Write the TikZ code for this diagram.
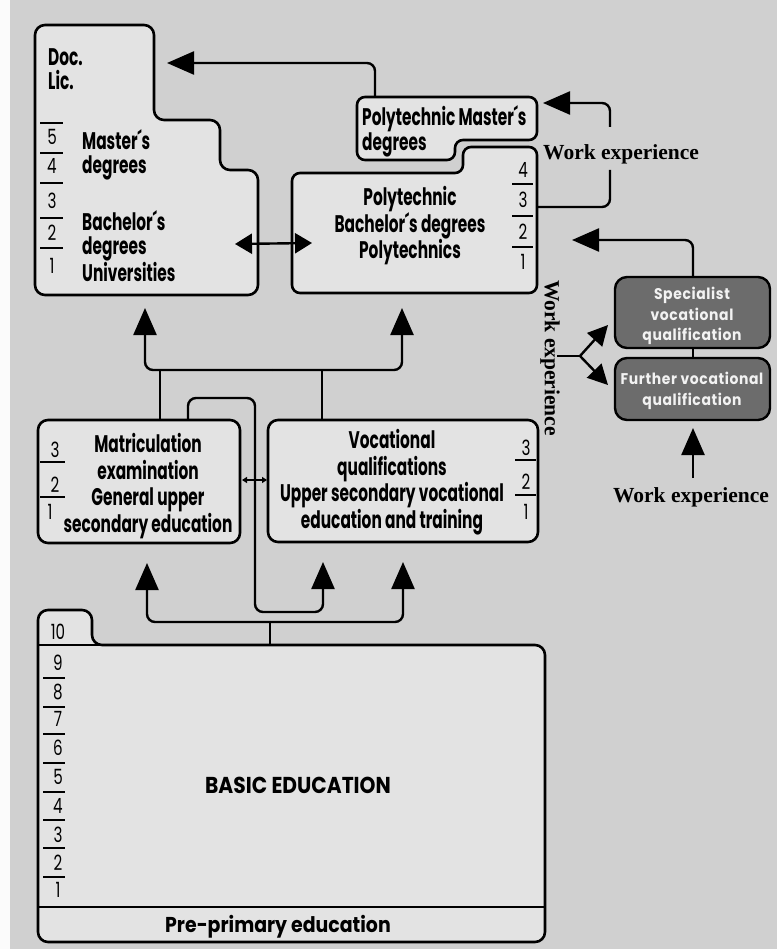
\documentclass[tikz,border=0pt]{standalone}
\usepackage{fontspec}
\usetikzlibrary{arrows.meta}
\newfontfamily\fut[FakeStretch=0.64]{Poppins}
\newfontfamily\futn[FakeStretch=0.72]{Poppins}
\newfontfamily\futw[FakeStretch=0.88]{Poppins}
\newfontfamily\futs[FakeStretch=0.9,LetterSpace=4]{Poppins}
\newfontfamily\wser{Liberation Serif}
\definecolor{bg}{HTML}{D0D0D0}
\definecolor{boxbg}{HTML}{E3E3E3}
\definecolor{darkfill}{HTML}{6C6C6C}
\definecolor{lighttext}{HTML}{F2F2F2}
\begin{document}
\begin{tikzpicture}[x=1pt,y=-1pt,
  boxline/.style={line width=2.6pt, rounded corners=10pt, fill=boxbg},
  darkbox/.style={line width=2.4pt, rounded corners=12pt, fill=darkfill},
  conn/.style={line width=2.4pt, rounded corners=8pt},
  bigtip/.style={-{Triangle[length=27pt,width=23pt]}},
  midtip/.style={{Triangle[length=17pt,width=20pt]}-{Triangle[length=17pt,width=20pt]}},
  forktip/.style={-{Triangle[length=20pt,width=20pt]}},
  smalltip/.style={{Triangle[length=5pt,width=6pt]}-{Triangle[length=5pt,width=6pt]}},
  lbl/.style={font=\fut\bfseries\fontsize{24}{26.5}\selectfont, align=center, inner sep=0},
  lbltight/.style={font=\fut\bfseries\fontsize{24}{24}\selectfont, align=left, inner sep=0},
  lblw/.style={font=\futw\bfseries\fontsize{23}{24}\selectfont, inner sep=0},
  dlbl/.style={font=\futs\bfseries\fontsize{15.5}{20.5}\selectfont, align=center, inner sep=0, text=lighttext},
  num/.style={font=\futn\fontsize{21}{22}\selectfont, inner sep=0},
  tick/.style={line width=2pt},
  wexp/.style={font=\wser\bfseries\fontsize{21.5}{22}\selectfont, inner sep=0},
]
\useasboundingbox (0,0) rectangle (777,949);
\fill[bg] (0,0) rectangle (777,949);
\fill[white!92!bg] (0,0) rectangle (10,949);

% ---------------- University box
\draw[boxline] (35,25) -- (154,25) -- (154,120) -- (220,120) -- (220,170) -- (258,170) -- (258,295) -- (35,295) -- cycle;
\node[lbltight, anchor=west] (doclic) at (48,69) {Doc.\\Lic.};
\foreach \n/\y in {5/137,4/166,3/201,2/233,1/266} \node[num] (u\n) at (52,\y) {\n};
\foreach \y in {123,153,183,218,248} \draw[tick] (40,\y) -- (63,\y);
\node[lbltight, anchor=west] (ma) at (82,155) {Master´s\\degrees};
\node[lbltight, anchor=west] (ba) at (82,246) {Bachelor´s\\degrees\\Universities};

% ---------------- Polytechnic Master's box
\draw[boxline, rounded corners=8pt] (357,97) -- (537,97) -- (537,140) -- (455,140) -- (455,160) -- (357,160) -- cycle;
\node[lbltight, anchor=west] (pm) at (362,131) {Polytechnic Master´s\\degrees};

% ---------------- Polytechnic box
\draw[boxline, rounded corners=8pt] (292,173) -- (463,173) -- (463,147) -- (537,147) -- (537,293) -- (292,293) -- cycle;
\node[lbl] (poly) at (410,226) {Polytechnic\\Bachelor´s degrees\\Polytechnics};
\foreach \n/\y in {4/170,3/200,2/232,1/262} \node[num] (p\n) at (523,\y) {\n};
\foreach \y in {184,216,247} \draw[tick] (512,\y) -- (533,\y);

% ---------------- specialist boxes
\draw[darkbox] (615,277) rectangle (770,348);
\draw[darkbox] (615,358) rectangle (770,420);
\node[dlbl] (spec) at (692,316) {Specialist\\vocational\\qualification};
\node[dlbl] (furt) at (692,391) {Further vocational\\qualification};
\node[wexp] (we3) at (691,497) {Work experience};
\node[wexp, anchor=west] (we1) at (543,154) {Work experience};
\node[wexp, rotate=-90] (we2) at (550,358) {Work experience};

% ---------------- upper secondary boxes
\draw[boxline] (38,420) rectangle (240,543);
\node[lbl] (matr) at (148,486) {Matriculation\\examination\\General upper\\secondary education};
\node[num] (m3) at (55,450) {3};
\node[num] (m2) at (55,485) {2};
\node[num] (m1) at (50,512) {1};
\foreach \y in {462,497} \draw[tick] (40,\y) -- (65,\y);

\draw[boxline] (268,420) rectangle (538,542);
\node[lbl] (voc) at (392,482) {Vocational\\qualifications\\Upper secondary vocational\\education and training};
\foreach \n/\y in {3/448,2/482,1/512} \node[num] (v\n) at (526,\y) {\n};
\foreach \y in {460,495} \draw[tick] (515,\y) -- (536,\y);

% ---------------- basic education
\draw[boxline] (38,942) -- (38,610) -- (92,610) -- (92,645) -- (545,645) -- (545,942) -- cycle;
\draw[line width=2.6pt] (38,645) -- (100,645);
\draw[line width=2.6pt] (38,907) -- (545,907);
\foreach \n/\y in {10/632,9/663,8/692,7/719,6/748,5/777,4/806,3/835,2/863,1/890} \node[num] (b\n) at (58,\y) {\n};
\foreach \y in {678,707,734,763,792,820,848,877} \draw[tick] (43,\y) -- (65,\y);
\node[lblw] (basic) at (298,785) {BASIC EDUCATION};
\node[lblw, font=\futw\bfseries\fontsize{21.5}{24}\selectfont] (pre) at (278,927) {Pre-primary education};

% ---------------- coordinates for connectors
\coordinate (mtop) at (375,97);
\coordinate (uniin) at (167,63);
\coordinate (polyout) at (537,207);
\coordinate (wgapb) at (610,170);
\coordinate (wgapt) at (610,127);
\coordinate (mastin) at (543,103);
\coordinate (spectop) at (693,277);
\coordinate (polyin) at (572,240);
\coordinate (specbot) at (693,348);
\coordinate (furttop) at (693,358);
\coordinate (furtin) at (693,428);
\coordinate (we3top) at (693,478);
\coordinate (forkA) at (557,356);
\coordinate (forkB) at (580,356);
\coordinate (forkUp) at (608,325);
\coordinate (forkDn) at (608,385);
\coordinate (uniR) at (235,244);
\coordinate (polyL) at (312,243);
\coordinate (unibot) at (145,308);
\coordinate (polybot) at (402,308);
\coordinate (midT) at (272,370);
\coordinate (matrtop) at (160,420);
\coordinate (voctop) at (322,420);
\coordinate (loopS) at (188,420);
\coordinate (loopE) at (323,562);
\coordinate (matrbot) at (147,563);
\coordinate (vocbot) at (403,562);
\coordinate (lowT) at (270,622);
\coordinate (basictop) at (270,645);
\coordinate (matrR) at (242,480);
\coordinate (vocL) at (267,480);

% ---------------- connectors
\draw[conn,bigtip] (mtop) |- (uniin);
\draw[conn] (polyout) -| (wgapb);
\draw[conn,bigtip] (wgapt) |- (mastin);
\draw[conn,bigtip] (spectop) |- (polyin);
\draw[conn] (specbot) -- (furttop);
\draw[conn,bigtip] (we3top) -- (furtin);
\draw[conn] (forkA) -- (forkB);
\draw[conn,forktip] (forkB) -- (forkUp);
\draw[conn,forktip] (forkB) -- (forkDn);
\draw[line width=2.4pt, midtip] (uniR) -- (polyL);
\draw[conn,bigtip] (midT) -| (unibot);
\draw[conn,bigtip] (midT) -| (polybot);
\draw[conn] (matrtop) -- (matrtop |- midT);
\draw[conn] (voctop) -- (voctop |- midT);
\draw[conn,bigtip] (loopS) -- (188,398) -- (255,398) -- (255,612) -- (323,612) -- (loopE);
\draw[conn,bigtip] (lowT) -| (matrbot);
\draw[conn,bigtip] (lowT) -| (vocbot);
\draw[conn] (basictop) -- (lowT);
\draw[line width=1.4pt, smalltip] (matrR) -- (vocL);
\end{tikzpicture}
\end{document}
